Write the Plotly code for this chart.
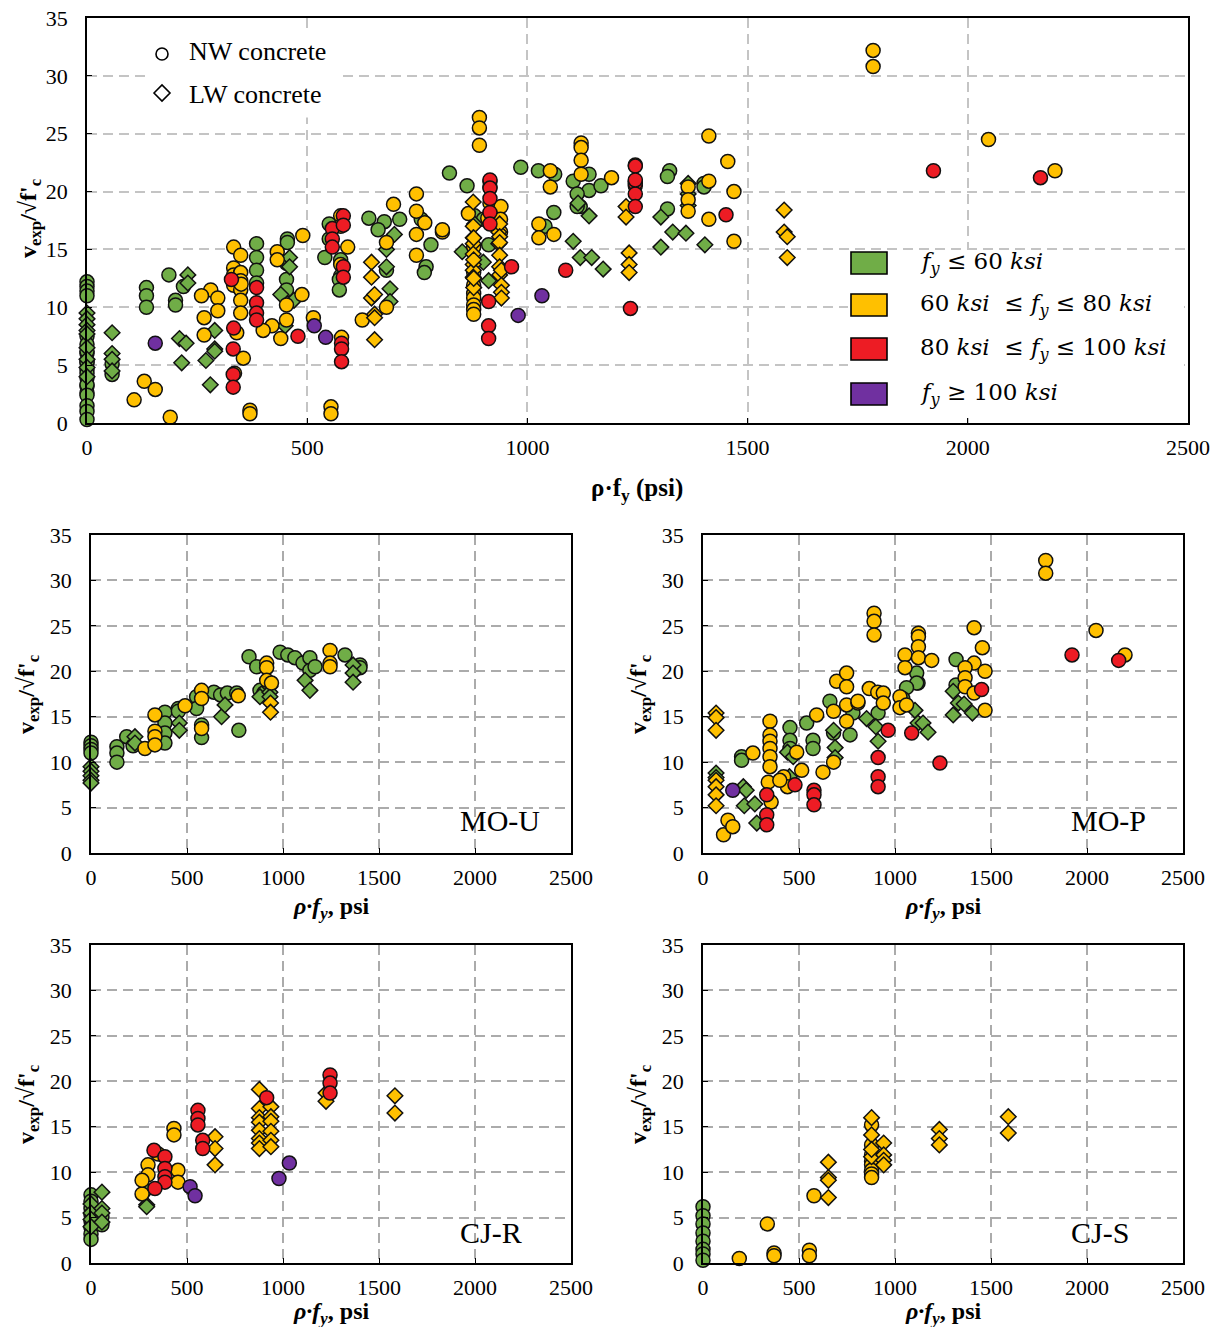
import plotly.graph_objects as go

# ---------------- DATA (rho*fy in psi, v_exp/sqrt(f'c)) ----------------
# MO-U
mou_nw_green_x = [0, 0, 0, 0, 135, 135, 135, 186, 219, 385, 385, 385, 385, 455, 455, 550, 550, 576, 576,
                  640, 675, 710, 759, 770, 823, 863, 880, 900, 985, 1025, 1062, 1104, 1140, 1140, 1167, 1323, 1401, 1401]
mou_nw_green_v = [12.2, 11.8, 11.4, 11.0, 11.7, 11.0, 10.0, 12.8, 11.8, 15.5, 14.3, 13.2, 12.1, 15.9, 15.6, 17.2, 15.9, 14.1, 12.7,
                  17.7, 17.4, 17.6, 17.6, 13.5, 21.6, 20.5, 17.9, 17.6, 22.1, 21.8, 21.5, 20.9, 21.5, 20.1, 20.5, 21.8, 20.7, 20.4]
mou_nw_yellow_x = [281, 333, 333, 333, 333, 490, 576, 576, 576, 767, 915, 915, 915, 940, 1245, 1245, 1245]
mou_nw_yellow_v = [11.5, 15.2, 13.4, 12.8, 11.9, 16.2, 17.9, 17.0, 13.7, 17.3, 20.9, 20.4, 19.0, 18.7, 22.3, 20.9, 20.5]
mou_lw_green_x = [0, 0, 0, 0, 0, 229, 229, 460, 460, 680, 698, 880, 932, 932, 932, 1115, 1140, 1365, 1365, 1365]
mou_lw_green_v = [9.5, 9.0, 8.5, 8.0, 7.7, 12.8, 12.1, 14.3, 13.5, 15.0, 16.3, 17.2, 18.3, 17.7, 17.2, 19.0, 17.9, 20.7, 19.8, 18.8]
mou_lw_yellow_x = [935, 935]
mou_lw_yellow_v = [16.5, 15.5]

# MO-P
mop_nw_green_x = [201, 201, 453, 453, 453, 540, 573, 573, 661, 680, 781, 766, 912, 1120, 1113, 1113, 1060, 1318, 1318, 1040]
mop_nw_green_v = [10.6, 10.2, 13.8, 12.4, 11.5, 14.3, 12.4, 11.5, 16.7, 13.2, 15.4, 13.0, 15.4, 18.7, 19.8, 18.7, 18.2, 21.3, 18.5, 17.0]
mop_nw_yellow_x = [107, 130, 155, 260, 349, 349, 349, 349, 349, 349, 340, 355, 420, 440, 400, 488, 514, 592, 625, 680, 680, 696,
                   748, 748, 748, 748, 807, 807, 866, 891, 891, 891, 910, 939, 939, 1026, 1026, 1052, 1052, 1060,
                   1122, 1122, 1122, 1122, 1191, 1785, 1785, 2047, 2198, 1412, 1455, 1412, 1365, 1469, 1365, 1365, 1412, 1469]
mop_nw_yellow_v = [2.0, 3.6, 2.9, 11.0, 14.5, 13.0, 12.3, 11.5, 10.6, 9.5, 7.8, 5.6, 8.4, 7.3, 8.0, 11.1, 9.1, 15.2, 8.9, 15.6, 10.0, 18.9,
                   19.8, 18.3, 16.3, 14.5, 16.5, 16.7, 18.1, 26.4, 25.5, 24.0, 17.7, 17.6, 16.5, 17.2, 16.0, 21.8, 20.4, 16.3,
                   24.2, 23.8, 22.7, 21.5, 21.2, 32.2, 30.8, 24.5, 21.8, 24.8, 22.6, 20.9, 20.4, 20.0, 19.3, 18.3, 17.6, 15.7]
mop_nw_red_x = [332, 332, 332, 479, 578, 578, 578, 912, 912, 912, 964, 1087, 1234, 1451, 1922, 2165]
mop_nw_red_v = [6.4, 4.2, 3.1, 7.5, 6.9, 6.4, 5.3, 10.5, 8.4, 7.3, 13.5, 13.2, 9.9, 18.0, 21.8, 21.2]
mop_nw_purple_x = [155]
mop_nw_purple_v = [6.9]
mop_lw_green_x = [68, 68, 210, 225, 215, 270, 280, 440, 470, 450, 680, 688, 688, 852, 900, 912, 1104, 1120, 1146, 1172,
                  1303, 1330, 1360, 1403, 1303]
mop_lw_green_v = [8.8, 8.3, 7.3, 6.9, 5.2, 5.4, 3.3, 11.1, 10.6, 8.4, 13.5, 11.6, 10.5, 14.8, 13.9, 12.3, 15.7, 14.3, 14.3, 13.3,
                  17.8, 16.5, 16.4, 15.4, 15.2]
mop_lw_yellow_x = [68, 68, 68, 68, 68, 68, 68]
mop_lw_yellow_v = [15.4, 14.9, 13.5, 8.0, 7.3, 6.4, 5.2]

# CJ-R
cjr_nw_green_x = [0, 0, 0, 0, 0, 0, 0, 0, 57, 57]
cjr_nw_green_v = [7.5, 6.8, 6.0, 5.3, 4.6, 3.9, 3.2, 2.6, 5.1, 4.2]
cjr_nw_yellow_x = [266, 297, 297, 266, 350, 453, 453, 432, 432]
cjr_nw_yellow_v = [7.6, 10.8, 9.7, 9.1, 12.0, 10.2, 8.9, 14.8, 14.1]
cjr_nw_red_x = [328, 385, 385, 385, 385, 333, 557, 557, 557, 582, 582, 915, 1245, 1245, 1245]
cjr_nw_red_v = [12.4, 11.7, 10.4, 9.5, 8.9, 8.2, 16.8, 15.9, 15.2, 13.5, 12.6, 18.2, 20.7, 19.8, 18.7]
cjr_nw_purple_x = [516, 542, 1033, 979]
cjr_nw_purple_v = [8.4, 7.4, 11.0, 9.3]
cjr_lw_green_x = [0, 0, 0, 0, 57, 57, 57, 57, 290, 290, 290]
cjr_lw_green_v = [6.5, 5.5, 4.8, 4.0, 7.8, 6.0, 5.5, 4.5, 8.0, 6.4, 6.2]
cjr_lw_yellow_x = [646, 646, 646, 877, 877, 877, 877, 877, 877, 877, 877, 937, 937, 937, 937, 937, 937, 1224, 1224, 1583, 1583]
cjr_lw_yellow_v = [13.9, 12.6, 10.8, 19.1, 17.0, 16.0, 15.5, 14.6, 13.7, 13.2, 12.6, 17.2, 16.1, 15.6, 14.5, 13.5, 12.8,
                   18.7, 17.8, 18.4, 16.5]

# CJ-S
cjs_nw_green_x = [0, 0, 0, 0, 0, 0, 0, 0]
cjs_nw_green_v = [6.2, 5.2, 4.3, 3.3, 2.4, 1.5, 1.0, 0.3]
cjs_nw_yellow_x = [189, 335, 370, 370, 554, 554, 578, 878, 878, 878, 878, 878, 878, 878, 878]
cjs_nw_yellow_v = [0.5, 4.3, 1.1, 0.8, 1.4, 0.8, 7.4, 15.2, 13.0, 11.9, 11.2, 10.8, 10.2, 9.8, 9.4]
cjs_lw_yellow_x = [653, 653, 653, 653, 878, 878, 878, 878, 941, 941, 941, 941, 1231, 1231, 1231, 1590, 1590]
cjs_lw_yellow_v = [11.1, 9.4, 9.1, 7.2, 16.0, 14.1, 11.7, 12.5, 13.2, 11.9, 11.3, 10.8, 14.7, 13.7, 13.0, 16.1, 14.3]

# points only seen in the combined (top) chart
all_extra_red_x = [915, 915, 915, 915, 582, 582, 1245, 1245]
all_extra_red_v = [21.0, 20.3, 19.4, 17.2, 17.9, 17.1, 22.2, 21.0]
# MO-P low rho*fy LW points are not shown in the combined chart
all_skip_below_x = 100

x_ticks = [0, 500, 1000, 1500, 2000, 2500]
y_ticks = [0, 5, 10, 15, 20, 25, 30, 35]
legend_fy_labels = ["<i>f</i><sub><i>y</i></sub> ≤ 60 <i>ksi</i>",
                    "60 <i>ksi</i>  ≤ <i>f</i><sub><i>y</i></sub> ≤ 80 <i>ksi</i>",
                    "80 <i>ksi</i>  ≤ <i>f</i><sub><i>y</i></sub> ≤ 100 <i>ksi</i>",
                    "<i>f</i><sub><i>y</i></sub> ≥ 100 <i>ksi</i>"]
panel_names = ["MO-U", "MO-P", "CJ-R", "CJ-S"]

# ---------------- STYLE ----------------
PAGE_OFF = 8                     # default page margin around the figure
W, H = 1222 - 2 * PAGE_OFF, 1335 - 2 * PAGE_OFF
COL = {"green": "#70AD47", "yellow": "#FFC000", "red": "#ED1C24", "purple": "#7030A0"}
SYM = {"nw": "circle", "lw": "diamond"}
FONT = "Liberation Serif"

def px_x(p):
    return (p - PAGE_OFF) / W

def px_y(p):
    return 1 - (p - PAGE_OFF) / H

# panel pixel boxes in screenshot pixels (left, right, top, bottom)
boxes = {
    "all": (87, 1188, 18, 423),
    "MO-U": (91, 571, 535, 853),
    "MO-P": (703, 1183, 535, 853),
    "CJ-R": (91, 571, 945, 1263),
    "CJ-S": (703, 1183, 945, 1263),
}
axis_ids = {"all": 1, "MO-U": 2, "MO-P": 3, "CJ-R": 4, "CJ-S": 5}

groups = {
    "MO-U": [("nw", "green", mou_nw_green_x, mou_nw_green_v), ("lw", "green", mou_lw_green_x, mou_lw_green_v),
             ("nw", "yellow", mou_nw_yellow_x, mou_nw_yellow_v), ("lw", "yellow", mou_lw_yellow_x, mou_lw_yellow_v)],
    "MO-P": [("nw", "green", mop_nw_green_x, mop_nw_green_v), ("lw", "green", mop_lw_green_x, mop_lw_green_v),
             ("nw", "yellow", mop_nw_yellow_x, mop_nw_yellow_v), ("lw", "yellow", mop_lw_yellow_x, mop_lw_yellow_v),
             ("nw", "red", mop_nw_red_x, mop_nw_red_v), ("nw", "purple", mop_nw_purple_x, mop_nw_purple_v)],
    "CJ-R": [("nw", "green", cjr_nw_green_x, cjr_nw_green_v), ("lw", "green", cjr_lw_green_x, cjr_lw_green_v),
             ("nw", "yellow", cjr_nw_yellow_x, cjr_nw_yellow_v), ("lw", "yellow", cjr_lw_yellow_x, cjr_lw_yellow_v),
             ("nw", "red", cjr_nw_red_x, cjr_nw_red_v), ("nw", "purple", cjr_nw_purple_x, cjr_nw_purple_v)],
    "CJ-S": [("nw", "green", cjs_nw_green_x, cjs_nw_green_v),
             ("nw", "yellow", cjs_nw_yellow_x, cjs_nw_yellow_v), ("lw", "yellow", cjs_lw_yellow_x, cjs_lw_yellow_v)],
}

order = [("nw", "green"), ("lw", "green"), ("nw", "yellow"), ("lw", "yellow"), ("nw", "red"), ("nw", "purple")]

fig = go.Figure()

def add(xs, vs, conc, color, k, size):
    suffix = "" if k == 1 else str(k)
    fig.add_trace(go.Scatter(
        x=xs, y=vs, mode="markers", xaxis="x" + suffix, yaxis="y" + suffix,
        cliponaxis=False, showlegend=False, hoverinfo="x+y",
        marker=dict(symbol=SYM[conc], color=COL[color],
                    size=size if conc == "nw" else size - 2,
                    line=dict(color="#111111", width=1.5))))

# combined chart: union of the subsets
for conc, color in order:
    xs, vs = [], []
    for pn in panel_names:
        for c2, col2, gx, gv in groups[pn]:
            if c2 == conc and col2 == color:
                for xv, vv in zip(gx, gv):
                    if pn == "MO-P" and conc == "lw" and xv < all_skip_below_x:
                        continue
                    xs.append(xv)
                    vs.append(vv)
    if (conc, color) == ("nw", "red"):
        xs += all_extra_red_x
        vs += all_extra_red_v
    add(xs, vs, conc, color, 1, 14)

for pn in panel_names:
    for conc, color in order:
        for c2, col2, gx, gv in groups[pn]:
            if c2 == conc and col2 == color:
                add(gx, gv, conc, color, axis_ids[pn], 14)

layout = dict(width=W, height=H, margin=dict(l=0, r=0, t=0, b=0, pad=0, autoexpand=False),
              paper_bgcolor="white", plot_bgcolor="white", showlegend=False)

axis_common = dict(showline=True, linecolor="black", linewidth=1.6, mirror=True,
                   ticks="inside", ticklen=5, tickcolor="black", tickwidth=1.3,
                   showgrid=True, griddash="10px,6px", gridwidth=1.5, zeroline=False,
                   automargin=False, ticklabeloverflow="allow",
                   tickfont=dict(family=FONT, size=22, color="black"))

for name, (l, r, t, b) in boxes.items():
    k = axis_ids[name]
    s = "" if k == 1 else str(k)
    grid = "#C4C4C4" if k == 1 else "#ABABAB"
    layout["xaxis" + s] = dict(axis_common, domain=[px_x(l), px_x(r)], range=[0, 2500],
                               tickvals=x_ticks, anchor="y" + s, gridcolor=grid, ticklabelstandoff=4)
    layout["yaxis" + s] = dict(axis_common, domain=[px_y(b), px_y(t)], range=[0, 35],
                               tickvals=y_ticks, anchor="x" + s, gridcolor=grid, ticklabelstandoff=13)

fig.update_layout(**layout)

# white background boxes for the legends of the combined chart (over grid, under data)
fig.add_shape(type="rect", xref="x", yref="y", x0=132, x1=574, y0=26.4, y1=34.1,
              fillcolor="white", line=dict(width=0), layer="between")
fig.add_shape(type="rect", xref="x", yref="y", x0=1728, x1=2491, y0=0.95, y1=14.95,
              fillcolor="white", line=dict(width=0), layer="between")

# concrete-type legend
fig.add_shape(type="circle", xref="paper", yref="paper",
              x0=px_x(156), x1=px_x(168), y0=px_y(60), y1=px_y(48),
              line=dict(color="black", width=1.6), fillcolor="white")
cx, cy, d = 162, 93, 8
fig.add_shape(type="path", xref="paper", yref="paper",
              path=f"M {px_x(cx-d)} {px_y(cy)} L {px_x(cx)} {px_y(cy-d)} L {px_x(cx+d)} {px_y(cy)} L {px_x(cx)} {px_y(cy+d)} Z",
              line=dict(color="black", width=1.6), fillcolor="white")
for txt, yy in [("NW concrete", 52), ("LW concrete", 94)]:
    fig.add_annotation(x=px_x(187), y=px_y(yy), xref="paper", yref="paper", text=txt,
                       showarrow=False, xanchor="left", yanchor="middle",
                       font=dict(family=FONT, size=26, color="black"))

# fy legend
for (color, lab, yy) in zip(["green", "yellow", "red", "purple"], legend_fy_labels, [263, 305, 349, 394]):
    fig.add_shape(type="rect", xref="paper", yref="paper",
                  x0=px_x(851), x1=px_x(887), y0=px_y(yy + 11), y1=px_y(yy - 11),
                  fillcolor=COL[color], line=dict(color="black", width=1.6))
    fig.add_annotation(x=px_x(918), y=px_y(yy), xref="paper", yref="paper", text=lab,
                       showarrow=False, xanchor="left", yanchor="middle",
                       font=dict(family="DejaVu Serif", size=23, color="black"))

ytitle = "<b>v<sub>exp</sub>/√f'<sub>c</sub></b>"

def label(x, y, text, size, angle=0):
    fig.add_annotation(x=px_x(x), y=px_y(y), xref="paper", yref="paper", text=text,
                       showarrow=False, textangle=angle, xanchor="center", yanchor="middle",
                       font=dict(family=FONT, size=size, color="black"))

# axis titles
label(637, 489, "<b>ρ·f<sub>y</sub> (psi)</b>", 25)
label(30, 218, ytitle, 24, -90)

subx = "<b><i>ρ·f<sub>y</sub></i>, psi</b>"
for name, lblpos, dy in [("MO-U", (500, 820), 55), ("MO-P", (1108, 820), 55),
                         ("CJ-R", (491, 1232), 50), ("CJ-S", (1100, 1232), 50)]:
    l, r, t, b = boxes[name]
    label((l + r) / 2, b + dy, subx, 24)
    label(l - 63, (t + b) / 2, ytitle, 24, -90)
    label(lblpos[0], lblpos[1], name, 30)

fig.write_html("out.html")
